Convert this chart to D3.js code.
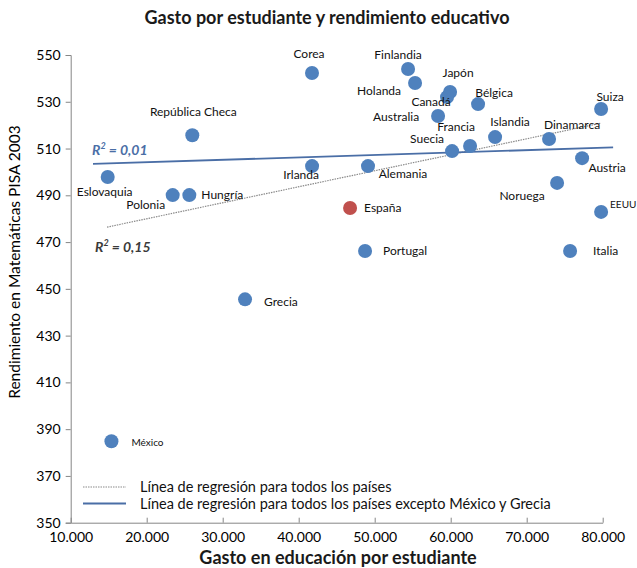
<!DOCTYPE html>
<html>
<head>
<meta charset="utf-8">
<script src="https://cdn.jsdelivr.net/npm/d3@7"></script>
<style>
  html, body { margin: 0; padding: 0; background: #fff; }
  svg { display: block; font-family: Lato, "Open Sans", sans-serif; }
</style>
</head>
<body>
<svg id="chart" width="637" height="568"></svg>
<script>
// ---- data ----
const countries = ["Corea","Finlandia","Holanda","Japón","Canadá","Bélgica","Suiza","Australia",
  "Islandia","Dinamarca","Francia","Suecia","República Checa","Irlanda","Alemania","Austria",
  "Eslovaquia","Polonia","Hungría","Noruega","EEUU","España","Portugal","Italia","Grecia","México"];
const gasto = [41750,54390,55310,59920,59520,63600,79790,58340,
  65840,72940,62550,60180,26000,41760,49120,77290,
  14870,23420,25610,74000,79790,46760,48730,75710,32940,15360];
const rendimiento = [542.3,544.0,538.0,534.2,532.0,529.0,526.9,523.9,
  514.9,514.1,511.1,508.9,515.7,502.5,502.5,505.9,
  497.8,490.1,490.1,495.3,482.9,484.6,466.2,466.2,445.5,384.8];
const highlight = ["España"];

const xTicks = [10000,20000,30000,40000,50000,60000,70000,80000];
const yTicks = [350,370,390,410,430,450,470,490,510,530,550];

// trend lines (end points)
const trendAllX = [14780, 79690];
const trendAllY = [476.4, 520.8];
const trendSubX = [12935, 81370];
const trendSubY = [503.4, 510.5];
const r2All = "0,15";
const r2Sub = "0,01";

const titleText = "Gasto por estudiante y rendimiento educativo";
const xTitle = "Gasto en educación por estudiante";
const yTitle = "Rendimiento en Matemáticas PISA 2003";
const legendTexts = ["Línea de regresión para todos los países",
  "Línea de regresión para todos los países excepto México y Grecia"];

// ---- label placement (pixel offsets from point, anchor) ----
const labelPlacement = {
  "Corea":[-3,-19,"middle"], "Finlandia":[-10,-14,"middle"], "Holanda":[-36,8,"middle"],
  "Japón":[8,-19,"middle"], "Canadá":[-16,5,"middle"], "Bélgica":[16,-11,"middle"],
  "Suiza":[9,-12,"middle"], "Australia":[-42,1,"middle"], "Islandia":[15,-15,"middle"],
  "Dinamarca":[23,-14,"middle"], "Francia":[-14,-19,"middle"], "Suecia":[-25,-12,"middle"],
  "República Checa":[1,-23,"middle"], "Irlanda":[-11,9,"middle"], "Alemania":[35,8,"middle"],
  "Austria":[25,10,"middle"], "Eslovaquia":[-3,15,"middle"], "Polonia":[-27,10,"middle"],
  "Hungría":[12,0,"start"], "Noruega":[-35,13,"middle"], "EEUU":[9,-7,"start"],
  "España":[14,0,"start"], "Portugal":[18,0,"start"], "Italia":[23,0,"start"],
  "Grecia":[19,2,"start"], "México":[20,1,"start"]
};
const smallLabels = ["EEUU","México"];

// ---- drawing ----
const svg = d3.select("#chart");
const mLeft = 70.7, mRight = 602.7, mTop = 55, mBottom = 522.7;

const x = d3.scaleLinear().domain([10000, 80000]).range([mLeft, mRight]);
const y = d3.scaleLinear().domain([350, 550]).range([mBottom, mTop]);

const loc = d3.formatLocale({decimal: ",", thousands: ".", grouping: [3], currency: ["", ""]});
const fmt = loc.format(",");

// title
svg.append("text").attr("x", 327).attr("y", 24).attr("text-anchor", "middle")
  .attr("font-weight", "bold").attr("font-size", 18).attr("fill", "#1a1a1a").text(titleText);

// y axis
const yAxis = svg.append("g").attr("transform", `translate(${mLeft},0)`)
  .call(d3.axisLeft(y).tickValues(yTicks).tickSize(5).tickPadding(5));
yAxis.select(".domain").attr("stroke", "#868686");
yAxis.selectAll(".tick line").attr("stroke", "#868686");
yAxis.selectAll(".tick text").attr("font-size", 14).attr("fill", "#000")
  .attr("font-family", "Lato, sans-serif");

// x axis (ticks pointing up)
const xAxis = svg.append("g").attr("transform", `translate(0,${mBottom})`)
  .call(d3.axisBottom(x).tickValues(xTicks).tickFormat(fmt).tickSizeInner(-5).tickSizeOuter(0).tickPadding(9));
xAxis.select(".domain").attr("stroke", "#868686");
xAxis.selectAll(".tick line").attr("stroke", "#868686");
xAxis.selectAll(".tick text").attr("font-size", 14).attr("fill", "#000")
  .attr("font-family", "Lato, sans-serif");

// axis titles
svg.append("text").attr("x", 338).attr("y", 564).attr("text-anchor", "middle")
  .attr("font-weight", "bold").attr("font-size", 18).attr("fill", "#1a1a1a").text(xTitle);
svg.append("text").attr("transform", "translate(20,262) rotate(-90)").attr("text-anchor", "middle")
  .attr("font-size", 15.5).attr("fill", "#000").text(yTitle);

// trend lines
const line = d3.line().x(d => x(d[0])).y(d => y(d[1]));
svg.append("path").datum(d3.zip(trendAllX, trendAllY)).attr("d", line)
  .attr("fill", "none").attr("stroke", "#8a8a8a").attr("stroke-width", 1.2).attr("stroke-dasharray", "1.5,1");
svg.append("path").datum(d3.zip(trendSubX, trendSubY)).attr("d", line)
  .attr("fill", "none").attr("stroke", "#4a6ea6").attr("stroke-width", 1.8);

// R² labels
const r2a = svg.append("text").attr("x", 92).attr("y", 155).attr("font-size", 14)
  .attr("font-weight", "bold").attr("font-style", "italic").attr("fill", "#4a6ea6");
r2a.append("tspan").text("R");
r2a.append("tspan").attr("font-size", 9).attr("dy", -6).text("2");
r2a.append("tspan").attr("dy", 6).text(" = " + r2Sub);
const r2b = svg.append("text").attr("x", 95).attr("y", 252).attr("font-size", 14)
  .attr("font-weight", "bold").attr("font-style", "italic").attr("fill", "#3a3a3a");
r2b.append("tspan").text("R");
r2b.append("tspan").attr("font-size", 9).attr("dy", -6).text("2");
r2b.append("tspan").attr("dy", 6).text(" = " + r2All);

// points
const data = countries.map((c, i) => ({name: c, gx: gasto[i], ry: rendimiento[i]}));
svg.append("g").selectAll("circle").data(data).join("circle")
  .attr("cx", d => x(d.gx)).attr("cy", d => y(d.ry)).attr("r", 7)
  .attr("fill", d => highlight.includes(d.name) ? "#C0504D" : "#4F81BD");

// labels
svg.append("g").selectAll("text").data(data).join("text")
  .attr("x", d => x(d.gx) + labelPlacement[d.name][0])
  .attr("y", d => y(d.ry) + labelPlacement[d.name][1])
  .attr("dy", "0.35em")
  .attr("text-anchor", d => labelPlacement[d.name][2])
  .attr("font-size", d => smallLabels.includes(d.name) ? 10 : 12)
  .attr("fill", "#111")
  .text(d => d.name);

// legend
const lg = svg.append("g");
lg.append("line").attr("x1", 83).attr("x2", 126).attr("y1", 487).attr("y2", 487)
  .attr("stroke", "#8a8a8a").attr("stroke-width", 1.2).attr("stroke-dasharray", "1.5,1");
lg.append("line").attr("x1", 83).attr("x2", 126).attr("y1", 503.5).attr("y2", 503.5)
  .attr("stroke", "#4a6ea6").attr("stroke-width", 1.8);
lg.selectAll("text.lt").data(legendTexts).join("text").attr("class", "lt")
  .attr("x", 140).attr("y", (d, i) => 487 + i * 16.5).attr("dy", "0.35em")
  .attr("font-size", 14.5).attr("fill", "#111").text(d => d);
</script>
</body>
</html>
